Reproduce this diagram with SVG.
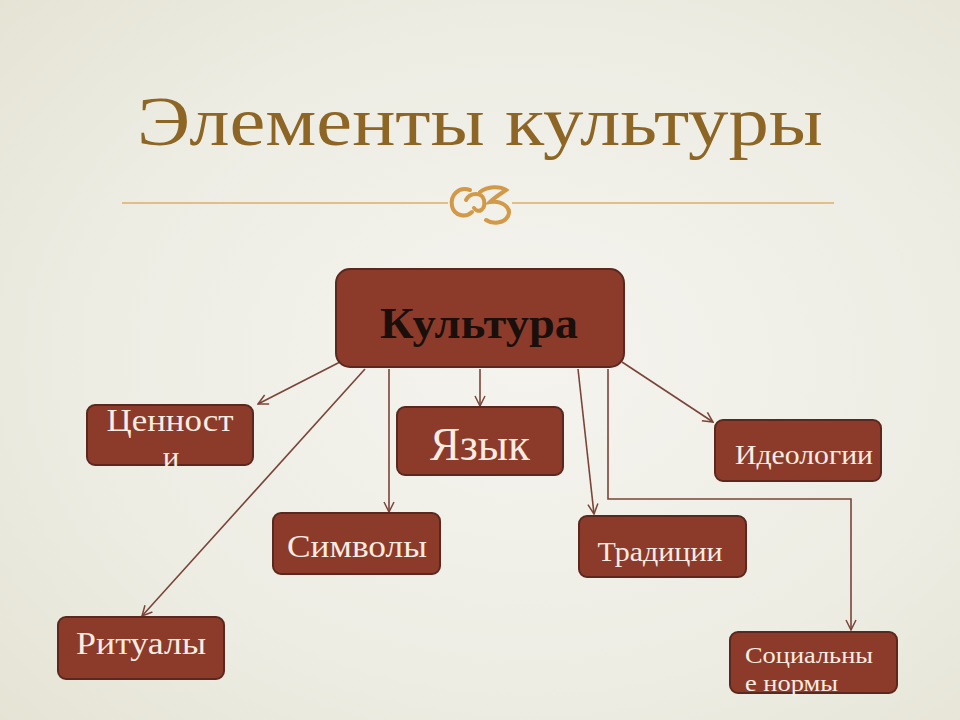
<svg xmlns="http://www.w3.org/2000/svg" width="960" height="720" viewBox="0 0 960 720">
<defs>
<radialGradient id="bg" cx="0.55" cy="0.5" r="0.75">
<stop offset="0" stop-color="#f4f3ee"/>
<stop offset="0.6" stop-color="#eeede4"/>
<stop offset="1" stop-color="#e4e3d4"/>
</radialGradient>
<marker id="arr" viewBox="0 0 12 12" refX="11" refY="6" markerWidth="12" markerHeight="12" markerUnits="userSpaceOnUse" orient="auto">
<path d="M1,1 L11,6 L1,11" fill="none" stroke="#7a4538" stroke-width="1.5"/>
</marker>
<style>
.box{fill:#8c3b2b;stroke:#5a281e;stroke-width:2}
.lbl{font-family:"Liberation Serif","DejaVu Serif",serif;fill:#f7ece2;text-anchor:middle}
.lbs{font-family:"Liberation Serif","DejaVu Serif",serif;fill:#f7ece2}
.con{fill:none;stroke:#7a4538;stroke-width:1.6;marker-end:url(#arr)}
</style>
</defs>
<rect width="960" height="720" fill="url(#bg)"/>
<text x="480" y="145" font-family="'Liberation Serif','DejaVu Serif',serif" font-size="70" fill="#8d6525" text-anchor="middle" textLength="686" lengthAdjust="spacingAndGlyphs">Элементы культуры</text>
<g id="divider">
<line x1="122" y1="203" x2="448" y2="203" stroke="#dcae68" stroke-width="1.5"/>
<line x1="512" y1="203" x2="834" y2="203" stroke="#dcae68" stroke-width="1.5"/>
<g fill="none" stroke="#d29a48" stroke-width="4" stroke-linecap="round">
<path d="M470,190 C458,186 450,196 452,206 C454,216 466,218 472,212"/>
<path d="M466,200 C470,192 482,192 484,200 C486,210 478,214 474,208"/>
<path d="M480,192 C488,186 500,186 506,190 C500,194 494,198 490,202 C502,200 512,208 508,216 C504,224 492,224 486,220"/>
</g>
</g>
<g id="connectors">
<path class="con" d="M340,362 L258,404"/>
<path class="con" d="M365,369 L142,616"/>
<path class="con" d="M389,369 L389,512"/>
<path class="con" d="M480,369 L480,406"/>
<path class="con" d="M578,369 L594,514"/>
<path class="con" d="M608,369 L608,499 L851,499 L851,630"/>
<path class="con" d="M622,362 L713,422"/>
</g>
<g id="culture">
<rect class="box" x="336" y="269" width="288" height="98" rx="14"/>
<text x="479" y="338" font-family="'Liberation Serif','DejaVu Serif',serif" font-size="44" font-weight="bold" fill="#1a0f0a" text-anchor="middle" textLength="198" lengthAdjust="spacingAndGlyphs">Культура</text>
</g>
<g id="values">
<rect class="box" x="87" y="405" width="166" height="60" rx="8"/>
<text class="lbl" x="170" y="431" font-size="31" textLength="127" lengthAdjust="spacingAndGlyphs">Ценност</text>
<text class="lbl" x="171" y="468" font-size="31">и</text>
</g>
<g id="language">
<rect class="box" x="397" y="407" width="166" height="68" rx="8"/>
<text class="lbl" x="480" y="460" font-size="46" textLength="100" lengthAdjust="spacingAndGlyphs">Язык</text>
</g>
<g id="ideologies">
<rect class="box" x="715" y="420" width="166" height="61" rx="8"/>
<text class="lbl" x="804" y="464" font-size="27" textLength="138" lengthAdjust="spacingAndGlyphs">Идеологии</text>
</g>
<g id="symbols">
<rect class="box" x="273" y="513" width="167" height="61" rx="8"/>
<text class="lbl" x="357" y="557" font-size="31" textLength="140" lengthAdjust="spacingAndGlyphs">Символы</text>
</g>
<g id="traditions">
<rect class="box" x="579" y="516" width="167" height="61" rx="8"/>
<text class="lbl" x="660" y="561" font-size="27" textLength="125" lengthAdjust="spacingAndGlyphs">Традиции</text>
</g>
<g id="rituals">
<rect class="box" x="58" y="617" width="166" height="62" rx="8"/>
<text class="lbl" x="141" y="654" font-size="31" textLength="130" lengthAdjust="spacingAndGlyphs">Ритуалы</text>
</g>
<g id="norms">
<rect class="box" x="730" y="632" width="167" height="61" rx="8"/>
<text class="lbs" x="745" y="663" font-size="24" textLength="128" lengthAdjust="spacingAndGlyphs">Социальны</text>
<text class="lbs" x="745" y="691" font-size="24" textLength="93" lengthAdjust="spacingAndGlyphs">е нормы</text>
</g>
</svg>
